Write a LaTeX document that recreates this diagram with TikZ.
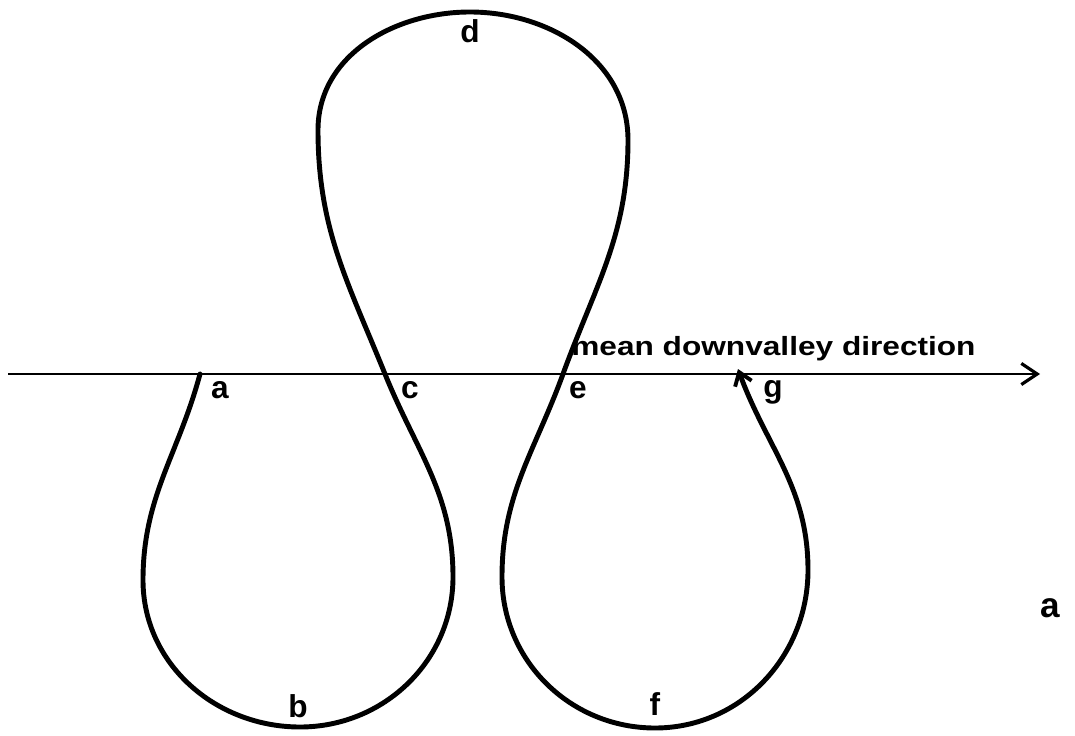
\documentclass[tikz,border=0pt]{standalone}
\usepackage{fontspec}
\setmainfont{Liberation Sans}
\newfontfamily\widesans[FakeStretch=1.2]{Liberation Sans}
\usepackage{tikz}
\usetikzlibrary{arrows.meta, positioning}

\begin{document}
\begin{tikzpicture}[
  x=0.02cm, y=0.02cm,
  channel/.style={line width=2.8pt, line cap=round, line join=round},
  axis/.style={line width=1.6pt, -{Straight Barb[length=9pt, width=12pt, line width=1.8pt]}},
  pt/.style={font=\fontsize{18}{18}\selectfont\bfseries, inner sep=0pt},
  title/.style={font=\widesans\fontsize{15}{15}\selectfont\bfseries, inner sep=0pt, anchor=base west},
]
\useasboundingbox (0,0) rectangle (1075,735);

%% Axis: mean downvalley direction
\coordinate (west) at (8,361);
\coordinate (east) at (1040,361);
\draw[axis] (west) -- (east);
\node[title] (dir) at (571,380) {mean downvalley direction};

%% Meander path a -> g
\draw[channel, -{Straight Barb[length=7pt, width=10pt, line width=2.2pt]}]
  (200,361) to[out=255,in=90] (143,155)
  to[out=270,in=180] (300,8)
  to[out=0,in=270] (453,158)
  to[out=90,in=292] (385,361)
  to[out=112,in=270] (318,605)
  to[out=90,in=180] (470,723)
  to[out=0,in=90] (628,595)
  to[out=270,in=70] (563,361)
  to[out=250,in=90] (502,158)
  to[out=270,in=180] (655,7)
  to[out=0,in=270] (808,165)
  to[out=90,in=290] (738,366);

%% Point labels
\node[pt] (la) at (220,345) {a};
\node[pt] (lb) at (298,29) {b};
\node[pt] (lc) at (410,345) {c};
\node[pt] (ld) at (470,704) {d};
\node[pt] (le) at (578,345) {e};
\node[pt] (lf) at (655,31) {f};
\node[pt] (lg) at (773,343) {g};

%% Panel label
\node[pt, font=\fontsize{20}{20}\selectfont\bfseries] (panel) at (1050,127) {a};

\end{tikzpicture}
\end{document}
